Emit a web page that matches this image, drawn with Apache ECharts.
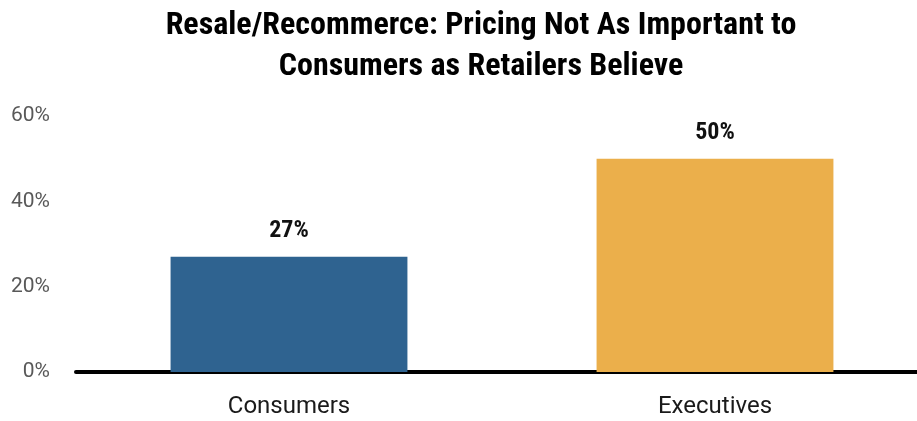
<!DOCTYPE html>
<html>
<head>
<meta charset="utf-8">
<script src="https://cdn.jsdelivr.net/npm/echarts@6/dist/echarts.min.js"></script>
<style>
  html, body { margin: 0; padding: 0; background: #fff; }
  #chart { width: 917px; height: 421px; }
</style>
</head>
<body>
<div id="chart"></div>
<script>
const categories = ['Consumers', 'Executives']
const values = [27, 50]
const barColors = ['#2f6390', '#ebaf4b']
const yTicks = [0, 20, 40, 60]

const condensed = "'Roboto Condensed', 'Liberation Sans Narrow', Roboto, sans-serif"
const regular = "Roboto, sans-serif"
let chart = echarts.init(document.getElementById('chart'))
let option = {
  title: {
    text: 'Resale/Recommerce: Pricing Not As Important to\nConsumers as Retailers Believe',
    left: 476,
    top: 0,
    textAlign: 'center',
    textStyle: {
      fontFamily: condensed,
      fontSize: 32,
      fontWeight: 'bold',
      color: '#000',
      lineHeight: 41
    }
  },
  grid: {
    left: 76,
    right: -11,
    top: 116,
    bottom: 49,
    outerBoundsMode: 'none',
    containLabel: false
  },
  xAxis: {
    type: 'category',
    data: categories,
    axisTick: { show: false },
    axisLine: { lineStyle: { color: '#000', width: 4 } },
    axisLabel: {
      fontFamily: regular,
      fontSize: 24,
      color: '#1a1a1a',
      margin: 23
    }
  },
  yAxis: {
    type: 'value',
    min: yTicks[0],
    max: yTicks[yTicks.length - 1],
    interval: 20,
    splitLine: { show: false },
    axisLine: { show: false },
    axisTick: { show: false },
    axisLabel: {
      fontFamily: regular,
      fontSize: 21,
      color: '#595959',
      margin: 26,
      formatter: '{value}%'
    }
  },
  series: [{
    type: 'bar',
    barWidth: '55.6%',
    data: values.map((v, i) => ({ value: v, itemStyle: { color: barColors[i] } })),
    label: {
      show: true,
      position: 'top',
      distance: 14,
      fontFamily: condensed,
      fontSize: 24,
      fontWeight: 'bold',
      color: '#111',
      formatter: '{c}%'
    }
  }]
}
chart.setOption(option)
</script>
</body>
</html>
